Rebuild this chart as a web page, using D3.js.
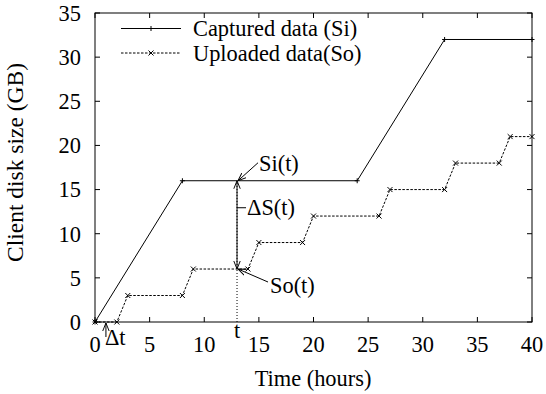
<!DOCTYPE html>
<html>
<head>
<meta charset="UTF-8"/>
<title>Client disk size</title>
<script src="https://cdn.jsdelivr.net/npm/d3@7"></script>
<style>
body { margin: 0; background: #fff; }
svg { display: block; }
text { font-family: 'Liberation Serif', 'Times New Roman', serif; font-size: 22.4px; fill: #000; }
text.ylabel { font-size: 23.5px; }
.frame { fill: none; stroke: #000; stroke-width: 1; }
.tick { stroke: #000; stroke-width: 1; }
.si { fill: none; stroke: #000; stroke-width: 1; }
.so { fill: none; stroke: #000; stroke-width: 1; stroke-dasharray: 2.5 1.5; }
.mark { stroke: #000; stroke-width: 1; }
.annot { stroke: #000; stroke-width: 1; fill: none; }
</style>
</head>
<body>
<svg id="chart" width="546" height="394"></svg>
<script>
// captured data (Si)
const siHours = [0, 8, 24, 32, 40];
const siSize = [0, 16, 16, 32, 32];
// uploaded data (So)
const soHours = [0, 2, 3, 8, 9, 14, 15, 19, 20, 26, 27, 32, 33, 37, 38, 40];
const soSize = [0, 0, 3, 3, 6, 6, 9, 9, 12, 12, 15, 15, 18, 18, 21, 21];

const xTicks = [0, 5, 10, 15, 20, 25, 30, 35, 40];
const yTicks = [0, 5, 10, 15, 20, 25, 30, 35];

// annotated instant
const tMark = 13;
const siAt = 16;
const soAt = 6;
const dtMark = 1;

const svg = d3.select('#chart');

const x = d3.scaleLinear().domain([0, 40]).range([95, 532]);
const y = d3.scaleLinear().domain([0, 35]).range([322, 13]);

const tickLen = 5;

// frame
svg.append('rect').attr('class', 'frame')
  .attr('x', x(0)).attr('y', y(35))
  .attr('width', x(40) - x(0)).attr('height', y(0) - y(35));

// x ticks (bottom + mirrored top)
xTicks.forEach(t => {
  svg.append('line').attr('class', 'tick')
    .attr('x1', x(t)).attr('x2', x(t)).attr('y1', y(0)).attr('y2', y(0) - tickLen);
  svg.append('line').attr('class', 'tick')
    .attr('x1', x(t)).attr('x2', x(t)).attr('y1', y(35)).attr('y2', y(35) + tickLen);
  svg.append('text')
    .attr('x', x(t)).attr('y', 352)
    .attr('text-anchor', 'middle')
    .text(t);
});

// y ticks (left + mirrored right)
yTicks.forEach(v => {
  svg.append('line').attr('class', 'tick')
    .attr('x1', x(0)).attr('x2', x(0) + tickLen).attr('y1', y(v)).attr('y2', y(v));
  svg.append('line').attr('class', 'tick')
    .attr('x1', x(40)).attr('x2', x(40) - tickLen).attr('y1', y(v)).attr('y2', y(v));
  svg.append('text')
    .attr('x', 81).attr('y', y(v))
    .attr('dy', '0.35em')
    .attr('text-anchor', 'end')
    .text(v);
});

// axis labels
svg.append('text')
  .attr('x', 313).attr('y', 386)
  .attr('text-anchor', 'middle')
  .text('Time (hours)');

svg.append('text')
  .attr('class', 'ylabel')
  .attr('transform', `translate(23, ${(y(0) + y(35)) / 2 - 5}) rotate(-90)`)
  .attr('text-anchor', 'middle')
  .text('Client disk size (GB)');

// series
const si = siHours.map((h, i) => [h, siSize[i]]);
const so = soHours.map((h, i) => [h, soSize[i]]);

const line = d3.line().x(d => x(d[0])).y(d => y(d[1]));

svg.append('path').attr('class', 'si').attr('d', line(si));
svg.append('path').attr('class', 'so').attr('d', line(so));

const plus = (g, cx, cy, r) => {
  g.append('line').attr('class', 'mark').attr('x1', cx - r).attr('x2', cx + r).attr('y1', cy).attr('y2', cy);
  g.append('line').attr('class', 'mark').attr('x1', cx).attr('x2', cx).attr('y1', cy - r).attr('y2', cy + r);
};
const cross = (g, cx, cy, r) => {
  g.append('line').attr('class', 'mark').attr('x1', cx - r).attr('x2', cx + r).attr('y1', cy - r).attr('y2', cy + r);
  g.append('line').attr('class', 'mark').attr('x1', cx - r).attr('x2', cx + r).attr('y1', cy + r).attr('y2', cy - r);
};

const marks = svg.append('g');
si.forEach(d => plus(marks, x(d[0]), y(d[1]), 2.5));
so.forEach(d => cross(marks, x(d[0]), y(d[1]), 2.5));

// legend
const leg = svg.append('g');
leg.append('line').attr('class', 'si').attr('x1', 121).attr('x2', 181).attr('y1', 28.5).attr('y2', 28.5);
plus(leg, 151, 28.5, 2.5);
leg.append('text').attr('x', 193).attr('y', 36).text('Captured data (Si)');
leg.append('line').attr('class', 'so').attr('x1', 121).attr('x2', 181).attr('y1', 53).attr('y2', 53);
cross(leg, 151, 53, 2.5);
leg.append('text').attr('x', 193).attr('y', 60.5).text('Uploaded data(So)');

// arrowheads
const defs = svg.append('defs');
defs.append('marker')
  .attr('id', 'head')
  .attr('viewBox', '0 0 10 10')
  .attr('refX', 10).attr('refY', 5)
  .attr('markerWidth', 8).attr('markerHeight', 8)
  .attr('markerUnits', 'userSpaceOnUse')
  .attr('orient', 'auto-start-reverse')
  .append('path')
  .attr('d', 'M0,1 L10,5 L0,9')
  .attr('fill', 'none').attr('stroke', '#000').attr('stroke-width', 1.2);

const tx = x(tMark);

// dotted guide at t
svg.append('line').attr('class', 'annot')
  .attr('stroke-dasharray', '1 2')
  .attr('x1', tx).attr('x2', tx).attr('y1', y(0)).attr('y2', y(siAt));

// double arrow between So(t) and Si(t)
svg.append('line').attr('class', 'annot')
  .attr('x1', tx).attr('x2', tx).attr('y1', y(siAt)).attr('y2', y(soAt))
  .attr('marker-start', 'url(#head)').attr('marker-end', 'url(#head)');

// Si(t)
svg.append('line').attr('class', 'annot')
  .attr('x1', tx + 21).attr('y1', y(siAt) - 18).attr('x2', tx + 1).attr('y2', y(siAt))
  .attr('marker-end', 'url(#head)');
svg.append('text').attr('x', tx + 22).attr('y', y(siAt) - 10).text('Si(t)');

// ΔS(t)
svg.append('line').attr('class', 'annot')
  .attr('x1', tx).attr('x2', tx + 9).attr('y1', y(siAt) + 27).attr('y2', y(siAt) + 27);
svg.append('text').attr('x', tx + 10).attr('y', y(siAt) + 34).text('ΔS(t)');

// So(t)
svg.append('line').attr('class', 'annot')
  .attr('x1', tx + 31).attr('y1', y(soAt) + 13).attr('x2', tx + 1).attr('y2', y(soAt))
  .attr('marker-end', 'url(#head)');
svg.append('text').attr('x', tx + 33).attr('y', y(soAt) + 24).text('So(t)');

// t label under axis
svg.append('text').attr('x', tx).attr('y', 338).attr('text-anchor', 'middle').text('t');

// Δt
svg.append('line').attr('class', 'annot')
  .attr('x1', x(dtMark)).attr('x2', x(dtMark)).attr('y1', 337).attr('y2', y(0) + 1)
  .attr('marker-end', 'url(#head)');
svg.append('text').attr('x', x(dtMark) - 1).attr('y', 345).text('Δt');
</script>
</body>
</html>
